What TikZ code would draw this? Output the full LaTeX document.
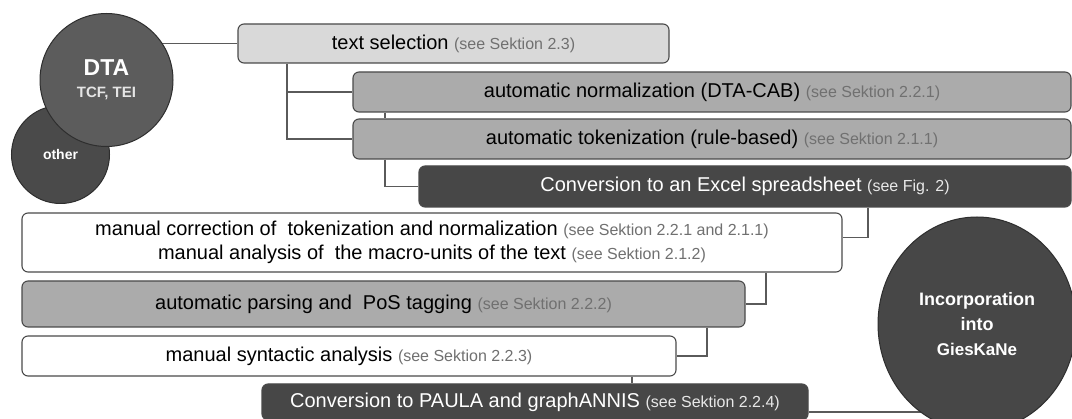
\documentclass[tikz,border=0pt]{standalone}
\usepackage{fontspec}
\setmainfont{Liberation Sans}
\usetikzlibrary{shapes.geometric,backgrounds}
\definecolor{lightfill}{HTML}{D9D9D9}
\definecolor{midfill}{HTML}{ABABAB}
\definecolor{darkfill}{HTML}{474747}
\definecolor{boxline}{HTML}{4A4A4A}
\definecolor{connline}{HTML}{5A5A5A}
\definecolor{refgray}{HTML}{707070}
\definecolor{reflight}{HTML}{E8E8E8}
\definecolor{dtafill}{HTML}{5C5C5C}
\definecolor{otherfill}{HTML}{4A4A4A}
\definecolor{incfill}{HTML}{474747}
\definecolor{circline}{HTML}{2E2E2E}
\newcommand{\seeref}[1]{{\fontsize{16}{19}\selectfont\color{refgray}#1}}
\newcommand{\seereflt}[1]{{\fontsize{16}{19}\selectfont\color{reflight}#1}}
\begin{document}
\begin{tikzpicture}[x=1pt,y=-1pt,
  stepbox/.style={draw=boxline, line width=1.1pt, rounded corners=6pt, inner sep=0pt,
    font=\fontsize{20}{24}\selectfont, text=black, align=center},
  lightbox/.style={stepbox, fill=lightfill},
  midbox/.style={stepbox, fill=midfill},
  darkbox/.style={stepbox, fill=darkfill, text=white},
  whitebox/.style={stepbox, fill=white},
  conn/.style={draw=connline, line width=1.3pt},
  blob/.style={circle, draw=circline, line width=1pt, text=white, inner sep=0pt, align=center}
]
\useasboundingbox (0,0) rectangle (1072,419);

% circles
\node[blob, fill=otherfill, minimum size=98pt, font=\bfseries\fontsize{14}{16}\selectfont] (other) at (60.5,154.5) {other};
\node[blob, fill=dtafill, minimum size=133pt, font=\bfseries\fontsize{15}{22}\selectfont] (dta) at (106.5,80)
  {{\fontsize{23}{22}\selectfont DTA}\\{\color{white!90!black}TCF, TEI}};
\node[ellipse, draw=circline, line width=1pt, fill=incfill, minimum width=198pt, minimum height=214pt,
  inner sep=0pt, text=white, align=center, font=\bfseries\fontsize{18}{25}\selectfont] (inc) at (977,324)
  {Incorporation\\into\\{\fontsize{17}{25}\selectfont GiesKaNe}};

% boxes
\node[lightbox, minimum width=431pt, minimum height=39pt] (tsel) at (453.5,43.5)
  {text selection \seeref{(see Sektion 2.3)}};
\node[midbox, minimum width=718pt, minimum height=40pt] (norm) at (712,92)
  {automatic normalization (DTA-CAB) \seeref{(see Sektion 2.2.1)}};
\node[midbox, minimum width=718pt, minimum height=40pt] (tok) at (712,139)
  {automatic tokenization (rule-based) \seeref{(see Sektion 2.1.1)}};
\node[darkbox, minimum width=652pt, minimum height=41pt] (excel) at (745,186.5)
  {Conversion to an Excel spreadsheet \seereflt{(see Fig. 2)}};
\node[whitebox, minimum width=820pt, minimum height=59pt] (mc) at (432,242.5)
  {manual correction of\ \ tokenization and normalization \seeref{(see Sektion 2.2.1 and 2.1.1)}\\
   manual analysis of\ \ the macro-units of the text \seeref{(see Sektion 2.1.2)}};
\node[midbox, minimum width=723pt, minimum height=46pt] (parse) at (383.5,304)
  {automatic parsing and\ \ PoS tagging \seeref{(see Sektion 2.2.2)}};
\node[whitebox, minimum width=654pt, minimum height=40pt] (synt) at (349,356)
  {manual syntactic analysis \seeref{(see Sektion 2.2.3)}};
\node[darkbox, minimum width=546pt, minimum height=36pt] (paula) at (535,402)
  {Conversion to PAULA and graphANNIS \seereflt{(see Sektion 2.2.4)}};

% x positions of the vertical connector parts
\coordinate (xa) at (287,0);
\coordinate (xb) at (385,0);
\coordinate (xc) at (868,0);
\coordinate (xd) at (766,0);
\coordinate (xe) at (707,0);
\coordinate (xf) at (632,0);

\begin{scope}[on background layer]
\fill[white] (0,0) rectangle (1072,419);
\draw[conn] (tsel.west) -- (tsel.west -| dta.center);
\draw[conn] (tsel.south -| xa) |- (tok.west);
\draw[conn] (xa |- norm.west) -- (norm.west);
\draw[conn] (norm.south -| xb) -- (tok.north -| xb);
\draw[conn] (tok.south -| xb) |- (excel.west);
\draw[conn] (excel.south -| xc) |- ([yshift=5pt]mc.east);
\draw[conn] (mc.south -| xd) |- (parse.east);
\draw[conn] (parse.south -| xe) |- (synt.east);
\draw[conn] (synt.south -| xf) -- (paula.north -| xf);
\draw[conn] ([yshift=-10pt]paula.east) -- ([yshift=-10pt]paula.east -| inc.center);
\end{scope}
\end{tikzpicture}
\end{document}
